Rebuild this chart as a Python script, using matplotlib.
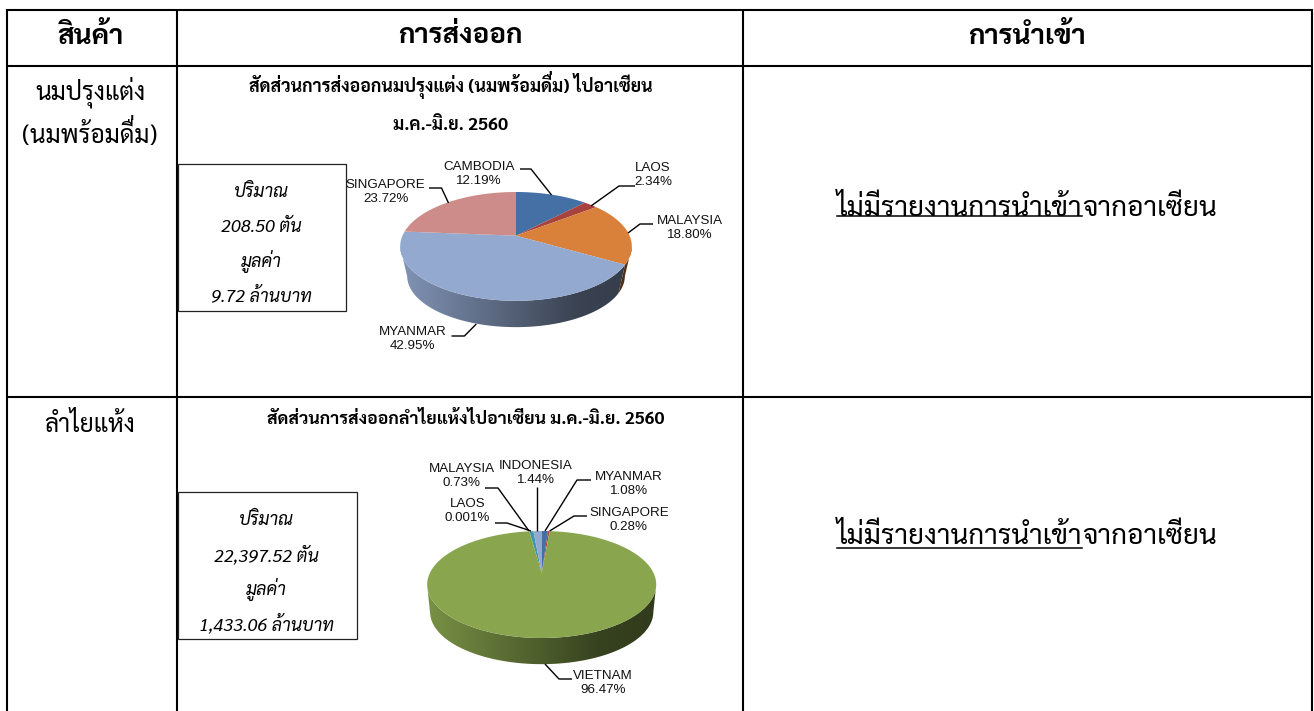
import numpy as np
import matplotlib
matplotlib.use('Agg')
import matplotlib.pyplot as plt
from matplotlib.patches import Polygon, Rectangle

plt.rcParams['font.family'] = ['Sarabun', 'Noto Sans Thai', 'DejaVu Sans']

W, H = 1314, 711

headers = ['สินค้า', 'การส่งออก', 'การนำเข้า']
products = ['นมปรุงแต่ง', '(นมพร้อมดื่ม)', 'ลำไยแห้ง']

milk_title = ['สัดส่วนการส่งออกนมปรุงแต่ง (นมพร้อมดื่ม) ไปอาเซียน', 'ม.ค.-มิ.ย. 2560']
milk_box = ['ปริมาณ', '208.50 ตัน', 'มูลค่า', '9.72 ล้านบาท']
milk_names = ['CAMBODIA', 'LAOS', 'MALAYSIA', 'MYANMAR', 'SINGAPORE']
milk_share = [12.19, 2.34, 18.80, 42.95, 23.72]
milk_labels = ['12.19%', '2.34%', '18.80%', '42.95%', '23.72%']
milk_colors = ['#4470A5', '#A8423F', '#D9803A', '#93A9CF', '#CD8C8A']

longan_title = 'สัดส่วนการส่งออกลำไยแห้งไปอาเซียน ม.ค.-มิ.ย. 2560'
longan_box = ['ปริมาณ', '22,397.52 ตัน', 'มูลค่า', '1,433.06 ล้านบาท']
longan_names = ['LAOS', 'MALAYSIA', 'INDONESIA', 'MYANMAR', 'SINGAPORE', 'VIETNAM']
longan_share = [0.001, 0.73, 1.44, 1.08, 0.28, 96.47]
longan_labels = ['0.001%', '0.73%', '1.44%', '1.08%', '0.28%', '96.47%']
longan_colors = ['#4198AF', '#4198AF', '#93A9CF', '#4470A5', '#A8423F', '#89A54E']

no_import = 'ไม่มีรายงานการนำเข้า'
no_import_tail = 'จากอาเซียน'


def pie_points(theta, cx, cy, rx, ry, off):
    # circle seen in perspective, apex sits above the ellipse centre
    c = off / ry
    k = rx * np.sqrt(1 - c ** 2)
    x, y = np.sin(theta), np.cos(theta)
    d = 1 + c * y
    return cx + k * x / d, cy - (ry * y + off) / d


def pie3d(ax, shares, colors, cx, cy, rx, ry, off, depth, shrink, start):
    edges = np.radians(start + np.concatenate([[0], np.cumsum(shares)]) / np.sum(shares) * 360)
    c = off / ry
    left, right = cx - rx, cx + rx
    for i, col in enumerate(colors):
        t = np.linspace(edges[i], edges[i + 1], 200)
        t = t[np.cos(t) < -c + 1e-9]
        if len(t) < 2:
            continue
        x1, y1 = pie_points(t, cx, cy, rx, ry, off)
        x2, y2 = pie_points(t, cx, cy + depth, rx * shrink, ry * shrink, off * shrink)
        poly = Polygon(np.column_stack([np.r_[x1, x2[::-1]], np.r_[y1, y2[::-1]]]),
                       closed=True, fc='none', ec='none', transform=ax.transData)
        ax.add_patch(poly)
        frac = np.linspace(0, 1, 256)
        shade = np.interp(frac, [0, 0.75, 1], [0.88, 0.40, 0.36])
        rgb = np.array(matplotlib.colors.to_rgb(col))
        grad = (shade[:, None] * rgb)[None, :, :]
        im = ax.imshow(grad, extent=(left, right, cy + depth + ry, cy - ry), aspect='auto', zorder=2)
        im.set_clip_path(poly)
    for i, col in enumerate(colors):
        t = np.linspace(edges[i], edges[i + 1], max(int((edges[i + 1] - edges[i]) * 80), 2))
        x, y = pie_points(t, cx, cy, rx, ry, off)
        ax.fill(np.r_[cx, x], np.r_[cy - off, y], fc=col, ec='none', zorder=3)
    ax.set_xlim(0, W)
    ax.set_ylim(H, 0)


def leader(ax, pts):
    xs, ys = zip(*pts)
    ax.plot(xs, ys, color='black', lw=1.0, solid_capstyle='butt', zorder=4)


def pie_label(ax, x, y, name, value):
    ax.text(x, y, name + '\n' + value, ha='center', va='center', fontsize=9.6,
            family=['Liberation Sans'], linespacing=1.32, color='#111111', zorder=5)


def info_box(ax, x0, y0, x1, y1, lines):
    ax.add_patch(Rectangle((x0, y0), x1 - x0, y1 - y0, fc='white', ec='#222222', lw=0.9, zorder=2))
    for i, s in enumerate(lines):
        ax.text((x0 + x1) / 2 - 1, y0 + 28.5 + i * 34.5, s, ha='center', va='center', fontsize=12.9,
                style='italic', zorder=5)


def text_width(ax, s, **kw):
    t = ax.text(0, 0, s, ha='left', va='baseline', **kw)
    w = t.get_window_extent(ax.figure.canvas.get_renderer()).width
    t.remove()
    return w


def stacked_text(ax, x, y, s, **kw):
    # no shaping in matplotlib: the tone mark on sara uee goes in by hand, raised
    mark = '\u0e48'
    i = s.index('\u0e37' + mark) + 1
    plain = s[:i] + s[i + 1:]
    x0 = x - text_width(ax, plain, **kw) / 2
    ax.text(x0, y, plain, ha='left', va='baseline', **kw)
    px = x0 + text_width(ax, s[:i], **kw)
    # trailing nbsp so the mark text has a real width
    ax.text(px, y - kw['fontsize'] * 0.30, mark + '\u00a0', ha='left', va='baseline', **kw)


fig = plt.figure(figsize=(W / 100, H / 100), dpi=100)
ax = fig.add_axes([0, 0, 1, 1])
ax.set_xlim(0, W)
ax.set_ylim(H, 0)
ax.axis('off')
fig.canvas.draw()

# table grid
for x in [6.5, 176.5, 743, 1311.5]:
    ax.plot([x, x], [8.5, H], color='black', lw=1.5, solid_capstyle='butt')
for y in [9.5, 66, 396.5]:
    ax.plot([5.5, 1312.5], [y, y], color='black', lw=1.5, solid_capstyle='butt')

for x, s in zip([90, 460, 1027], headers):
    ax.text(x, 36, s, ha='center', va='center', fontsize=20, fontweight='bold')
ax.text(90, 92, products[0], ha='center', va='center', fontsize=17.7)
stacked_text(ax, 90, 143, products[1], fontsize=17.7)
ax.text(90, 425, products[2], ha='center', va='center', fontsize=17.7)

# row 1
stacked_text(ax, 451, 92, milk_title[0], fontsize=12.8, fontweight='bold')
ax.text(451, 125, milk_title[1], ha='center', va='center', fontsize=12.8, fontweight='bold')
info_box(ax, 178, 164, 346, 311, milk_box)
pie3d(ax, milk_share, milk_colors, 516, 246.4, 115.8, 54.4, 10.7, 29.6, 0.94, 0)
leader(ax, [(520, 169), (531, 169), (551.5, 195)])
leader(ax, [(635, 186), (619, 186), (591, 206)])
leader(ax, [(653, 224), (640, 224), (628, 233)])
leader(ax, [(451.5, 336), (464.4, 336), (476.3, 324)])
leader(ax, [(429, 188), (441.5, 188), (448.5, 203)])
for x, y, n, v in zip([479, 653, 690, 412.6, 385.6], [174, 175, 228, 339, 192], milk_names, milk_labels):
    pie_label(ax, x, y, n, v)

# row 2
ax.text(466, 420, longan_title, ha='center', va='center', fontsize=12.7, fontweight='bold')
info_box(ax, 178, 492, 357, 639, longan_box)
pie3d(ax, longan_share, longan_colors, 541.7, 584.5, 114.5, 53.5, 11.5, 27.5, 0.975, -2.16 / 100 * 360)
leader(ax, [(495, 523), (507, 523), (531, 531)])
leader(ax, [(485, 488), (498, 488), (529, 531)])
leader(ax, [(537.4, 487), (537.4, 531)])
leader(ax, [(591, 480), (577, 480), (545, 531)])
leader(ax, [(587, 516), (574, 516), (549.6, 531)])
leader(ax, [(572, 679), (559, 679), (545, 664)])
for x, y, n, v in zip([467.4, 461.5, 535.6, 629, 629, 603.3], [511, 476, 473, 484, 520, 683],
                      longan_names, longan_labels):
    pie_label(ax, x, y, n, v)

# import column, underlined part then the tail
for y, uy in zip([209.5, 537.5], [216, 547.7]):
    full = text_width(ax, no_import + no_import_tail, fontsize=20.1)
    x0 = 1027 - full / 2
    a = ax.text(x0, y, no_import, ha='left', va='center', fontsize=20.1)
    abb = a.get_window_extent(fig.canvas.get_renderer())
    ax.text(abb.x1, y, no_import_tail, ha='left', va='center', fontsize=20.1)
    ax.plot([x0, abb.x1], [uy, uy], color='black', lw=1.1)

fig.savefig('out.png', dpi=100)
